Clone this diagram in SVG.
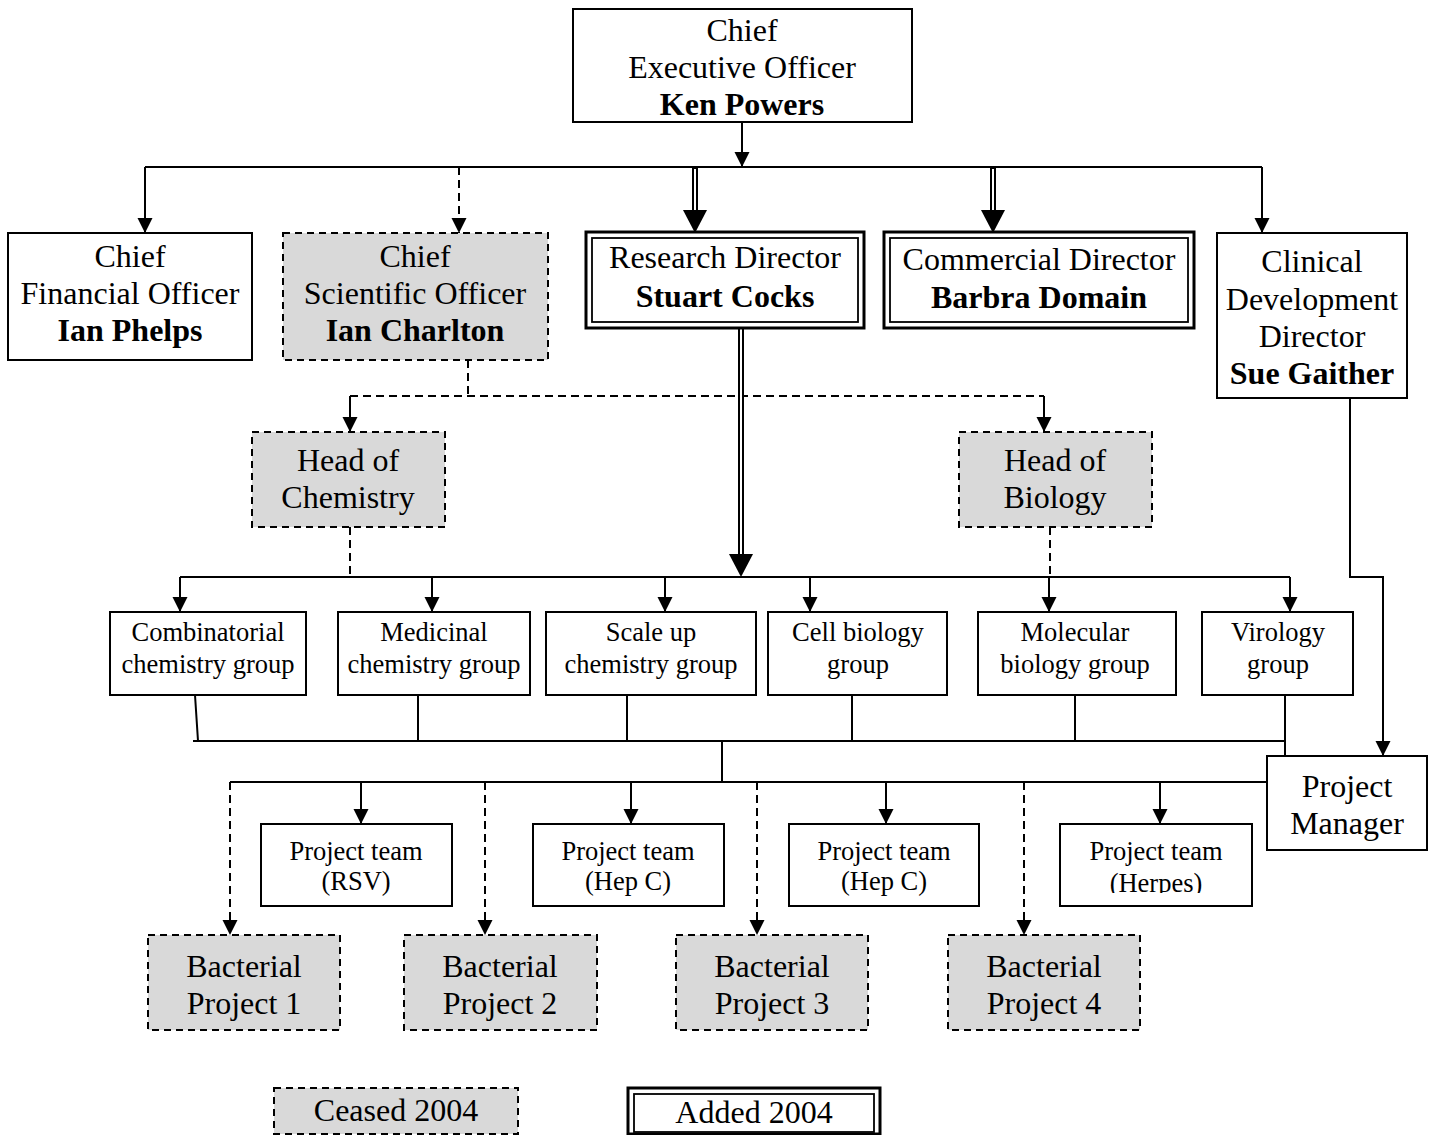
<svg xmlns="http://www.w3.org/2000/svg" width="1432" height="1135" viewBox="0 0 1432 1135">
<style>
.box{fill:#fff;stroke:#000;stroke-width:2}
.ceased{fill:#d9d9d9;stroke:#000;stroke-width:2;stroke-dasharray:7 5}
.dout{fill:#fff;stroke:#000;stroke-width:3}
.din{fill:none;stroke:#000;stroke-width:1.8}
.t{font-family:"Liberation Serif","Times New Roman",serif;font-size:32px;text-anchor:middle;fill:#000}
.b{font-weight:bold}
.s{font-size:26.5px}
.ln{stroke:#000;stroke-width:2;fill:none}
.dash{stroke-dasharray:8 5}
.dblk{stroke:#000;stroke-width:6;fill:none}
.dwht{stroke:#fff;stroke-width:2;fill:none}
</style>
<defs>
<marker id="ah" markerWidth="16" markerHeight="16" refX="15" refY="7.5" orient="auto" markerUnits="userSpaceOnUse"><path d="M0,0 L15,7.5 L0,15 z" fill="#000"/></marker>
<clipPath id="herpesClip"><rect x="1060" y="824" width="194" height="69"/></clipPath>
</defs>

<g id="connectors">
<path class="ln" d="M742,122 V167" marker-end="url(#ah)"/>
<path class="ln" d="M145,167 H1262"/>
<path class="ln" d="M145,167 V233" marker-end="url(#ah)"/>
<path class="ln dash" d="M459,167 V233" marker-end="url(#ah)"/>
<path class="ln" d="M1262,167 V233" marker-end="url(#ah)"/>
<path class="dblk" d="M695,167 V212"/><path class="dwht" d="M695,169 V213"/>
<polygon points="683,210 707,210 695,233" fill="#000"/>
<path class="dblk" d="M993,167 V212"/><path class="dwht" d="M993,169 V213"/>
<polygon points="981,210 1005,210 993,233" fill="#000"/>
<path class="ln dash" d="M468,360 V396 M350,396 H1044"/>
<path class="ln" d="M350,396 V432" marker-end="url(#ah)"/>
<path class="ln" d="M1044,396 V432" marker-end="url(#ah)"/>
<path class="dblk" d="M741,327 V556"/><path class="dwht" d="M741,329 V557"/>
<polygon points="729,554 753,554 741,577" fill="#000"/>
<path class="ln dash" d="M350,527 V577 M1050,527 V577"/>
<path class="ln" d="M180,577 H1290"/>
<path class="ln" d="M180,577 V612" marker-end="url(#ah)"/>
<path class="ln" d="M432,577 V612" marker-end="url(#ah)"/>
<path class="ln" d="M665,577 V612" marker-end="url(#ah)"/>
<path class="ln" d="M810,577 V612" marker-end="url(#ah)"/>
<path class="ln" d="M1049,577 V612" marker-end="url(#ah)"/>
<path class="ln" d="M1290,577 V612" marker-end="url(#ah)"/>
<path class="ln" d="M195,695 L198,741 M418,695 V741 M627,695 V741 M852,695 V741 M1075,695 V741 M1285,695 V756 M193,741 H1285"/>
<path class="ln" d="M722,741 V782 M230,782 H1267"/>
<path class="ln" d="M361,782 V824" marker-end="url(#ah)"/>
<path class="ln" d="M631,782 V824" marker-end="url(#ah)"/>
<path class="ln" d="M886,782 V824" marker-end="url(#ah)"/>
<path class="ln" d="M1160,782 V824" marker-end="url(#ah)"/>
<path class="ln dash" d="M230,782 V935" marker-end="url(#ah)"/>
<path class="ln dash" d="M485,782 V935" marker-end="url(#ah)"/>
<path class="ln dash" d="M757,782 V935" marker-end="url(#ah)"/>
<path class="ln dash" d="M1024,782 V935" marker-end="url(#ah)"/>
<path class="ln" d="M1350,398 V577 H1383 V756" marker-end="url(#ah)"/>
</g>

<g id="ceo"><rect class="box" x="573" y="9" width="339" height="113"/>
<text class="t" x="742" y="41">Chief</text><text class="t" x="742" y="78">Executive Officer</text><text class="t b" x="742" y="115">Ken Powers</text></g>

<g id="cfo"><rect class="box" x="8" y="233" width="244" height="127"/>
<text class="t" x="130" y="267">Chief</text><text class="t" x="130" y="304">Financial Officer</text><text class="t b" x="130" y="341">Ian Phelps</text></g>

<g id="cso"><rect class="ceased" x="283" y="233" width="265" height="127"/>
<text class="t" x="415" y="267">Chief</text><text class="t" x="415" y="304">Scientific Officer</text><text class="t b" x="415" y="341">Ian Charlton</text></g>

<g id="research-director"><rect class="dout" x="586" y="232" width="278" height="96"/><rect class="din" x="592" y="238" width="266" height="84"/>
<text class="t" x="725" y="268">Research Director</text><text class="t b" x="725" y="307">Stuart Cocks</text></g>

<g id="commercial-director"><rect class="dout" x="884" y="232" width="310" height="96"/><rect class="din" x="890" y="238" width="298" height="84"/>
<text class="t" x="1039" y="270">Commercial Director</text><text class="t b" x="1039" y="308">Barbra Domain</text></g>

<g id="clinical-director"><rect class="box" x="1217" y="233" width="190" height="165"/>
<text class="t" x="1312" y="272">Clinical</text><text class="t" x="1312" y="310">Development</text><text class="t" x="1312" y="347">Director</text><text class="t b" x="1312" y="384">Sue Gaither</text></g>

<g id="head-chemistry"><rect class="ceased" x="252" y="432" width="193" height="95"/>
<text class="t" x="348" y="471">Head of</text><text class="t" x="348" y="508">Chemistry</text></g>

<g id="head-biology"><rect class="ceased" x="959" y="432" width="193" height="95"/>
<text class="t" x="1055" y="471">Head of</text><text class="t" x="1055" y="508">Biology</text></g>

<g id="combinatorial"><rect class="box" x="110" y="612" width="196" height="83"/>
<text class="t s" x="208" y="641">Combinatorial</text><text class="t s" x="208" y="673">chemistry group</text></g>
<g id="medicinal"><rect class="box" x="338" y="612" width="192" height="83"/>
<text class="t s" x="434" y="641">Medicinal</text><text class="t s" x="434" y="673">chemistry group</text></g>
<g id="scaleup"><rect class="box" x="546" y="612" width="210" height="83"/>
<text class="t s" x="651" y="641">Scale up</text><text class="t s" x="651" y="673">chemistry group</text></g>
<g id="cellbio"><rect class="box" x="768" y="612" width="179" height="83"/>
<text class="t s" x="858" y="641">Cell biology</text><text class="t s" x="858" y="673">group</text></g>
<g id="molbio"><rect class="box" x="978" y="612" width="198" height="83"/>
<text class="t s" x="1075" y="641">Molecular</text><text class="t s" x="1075" y="673">biology group</text></g>
<g id="virology"><rect class="box" x="1202" y="612" width="151" height="83"/>
<text class="t s" x="1278" y="641">Virology</text><text class="t s" x="1278" y="673">group</text></g>

<g id="project-manager"><rect class="box" x="1267" y="756" width="160" height="94"/>
<text class="t" x="1347" y="797">Project</text><text class="t" x="1347" y="834">Manager</text></g>

<g id="team-rsv"><rect class="box" x="261" y="824" width="191" height="82"/>
<text class="t s" x="356" y="860">Project team</text><text class="t s" x="356" y="890">(RSV)</text></g>
<g id="team-hepc1"><rect class="box" x="533" y="824" width="191" height="82"/>
<text class="t s" x="628" y="860">Project team</text><text class="t s" x="628" y="890">(Hep C)</text></g>
<g id="team-hepc2"><rect class="box" x="789" y="824" width="190" height="82"/>
<text class="t s" x="884" y="860">Project team</text><text class="t s" x="884" y="890">(Hep C)</text></g>
<g id="team-herpes"><rect class="box" x="1060" y="824" width="192" height="82"/>
<text class="t s" x="1156" y="860">Project team</text><text class="t s" x="1156" y="892" clip-path="url(#herpesClip)">(Herpes)</text></g>

<g id="bacterial-1"><rect class="ceased" x="148" y="935" width="192" height="95"/>
<text class="t" x="244" y="977">Bacterial</text><text class="t" x="244" y="1014">Project 1</text></g>
<g id="bacterial-2"><rect class="ceased" x="404" y="935" width="193" height="95"/>
<text class="t" x="500" y="977">Bacterial</text><text class="t" x="500" y="1014">Project 2</text></g>
<g id="bacterial-3"><rect class="ceased" x="676" y="935" width="192" height="95"/>
<text class="t" x="772" y="977">Bacterial</text><text class="t" x="772" y="1014">Project 3</text></g>
<g id="bacterial-4"><rect class="ceased" x="948" y="935" width="192" height="95"/>
<text class="t" x="1044" y="977">Bacterial</text><text class="t" x="1044" y="1014">Project 4</text></g>

<g id="legend-ceased"><rect class="ceased" x="274" y="1088" width="244" height="46"/>
<text class="t" x="396" y="1121">Ceased 2004</text></g>
<g id="legend-added"><rect class="dout" x="628" y="1088" width="252" height="46"/><rect class="din" x="634" y="1094" width="240" height="38"/>
<text class="t" x="754" y="1123">Added 2004</text></g>
</svg>
